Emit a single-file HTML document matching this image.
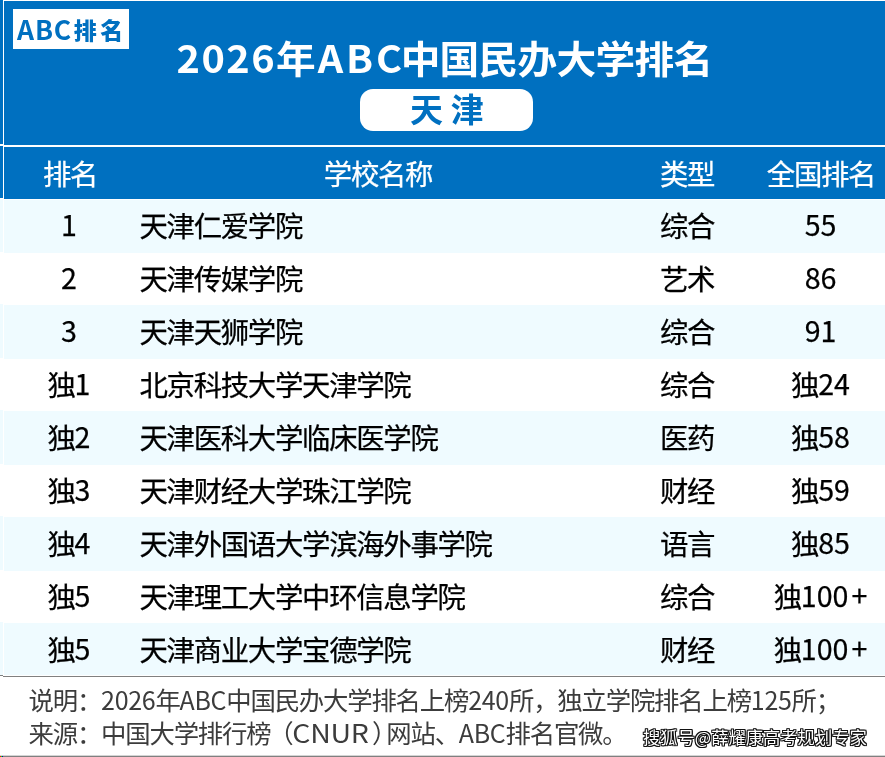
<!DOCTYPE html>
<html lang="zh-CN">
<head>
<meta charset="utf-8">
<title>2026年ABC中国民办大学排名 天津</title>
<style>
html,body{margin:0;padding:0;}
body{width:885px;height:757px;position:relative;overflow:hidden;background:#fff;
 font-family:"Noto Sans CJK SC","Liberation Sans",sans-serif;color:#000;}
.abs{position:absolute;}
i{font-style:normal;}
#top{left:4px;top:1px;width:881px;height:198px;background:#0070c0;}
#topl{left:0;top:0;width:3px;height:198px;background:#0070c0;}
#hline{left:4px;top:145px;width:881px;height:2px;background:#fff;}
#hlinel{left:0;top:144px;width:3px;height:2px;background:#fff;}
.band{left:4px;width:881px;background:#effbff;}
.bandl{left:0;width:3px;background:#effbff;}
#logo{left:13px;top:9px;width:116px;height:40px;background:#fff;color:#0070c0;font-weight:bold;
 font-size:23px;line-height:40px;text-align:left;white-space:nowrap;letter-spacing:3.6px;box-sizing:border-box;padding-left:4px;}
#logo i{font-size:26.5px;letter-spacing:0.9px;}
#logo b{position:relative;top:-1.2px;left:1.6px;}
#title{left:2.4px;top:29px;width:885px;height:56px;line-height:56px;text-align:center;color:#fff;font-weight:bold;
 font-size:38px;letter-spacing:-0.7px;white-space:nowrap;transform:scaleX(1.045);transform-origin:442.5px 0;}
#title i{letter-spacing:1.4px;}
#title .y{letter-spacing:1.8px;}
#title .l{letter-spacing:2.8px;}
#title .c{letter-spacing:-1.4px;}
#pill{left:360px;top:89px;width:173px;height:41.5px;border-radius:13px;background:#fff;color:#0070c0;
 font-weight:bold;font-size:33px;line-height:38px;text-align:center;letter-spacing:7.8px;white-space:nowrap;
 box-sizing:border-box;padding-left:8.5px;}
.row{-webkit-text-stroke:0.25px currentColor;left:0;width:885px;height:53px;line-height:53px;font-size:28.4px;letter-spacing:-1.3px;white-space:nowrap;}
.row i{letter-spacing:0;font-size:28.6px;position:relative;top:-0.8px;}
.row i.p{margin-left:3px;}
.row span{position:absolute;top:0;height:53px;}
.c1{left:19px;width:100px;text-align:center;}
.c2{left:139.5px;}
.c3{left:637px;width:100px;text-align:center;}
.c4{left:740.5px;width:160px;text-align:center;}
#hdr{top:147px;height:52px;line-height:52px;color:#fff;}
#hdr .c2{left:278px;width:200px;text-align:center;}
#hdr .c1{left:20px;}
#hdr .c4{left:741px;}
#gl1{left:3px;top:676px;width:882px;height:1px;background:#808080;}
#gl1l{left:0;top:675px;width:3px;height:1px;background:#808080;}
#gl2{left:3px;top:756px;width:882px;height:1px;background:#808080;}
#gl2a{left:0;top:755px;width:885px;height:1px;background:#d4d4d4;}
.px{top:756px;width:1px;height:1px;}
.note{left:28.5px;font-size:25.4px;letter-spacing:-1.2px;line-height:36px;height:36px;white-space:nowrap;color:#3c3c3c;}
.note b{font-weight:normal;}
.note .pl{margin-left:-2.3px;}
.note .pr{margin-right:-10px;}
.note i.w{display:inline-block;transform:scaleX(1.14);margin:0 8.2px 0 4.8px;}
.note i{font-size:25px;letter-spacing:-0.3px;}
#wm{left:643px;top:726px;font-size:17.3px;line-height:22px;color:#fff;font-weight:normal;white-space:nowrap;
 text-shadow:-1px -1px 0 #111,1px -1px 0 #111,-1px 1px 0 #111,1px 1px 0 #111,0 1px 0 #111,0 -1px 0 #111,1px 0 0 #111,-1px 0 0 #111;}
</style>
</head>
<body>
<div class="abs" id="top"></div>
<div class="abs" id="topl"></div>
<div class="abs" id="hline"></div>
<div class="abs" id="hlinel"></div>
<div class="abs band" style="top:200px;height:53px"></div><div class="abs bandl" style="top:199px;height:53px"></div>
<div class="abs band" style="top:305px;height:54px"></div><div class="abs bandl" style="top:304px;height:54px"></div>
<div class="abs band" style="top:411px;height:54px"></div><div class="abs bandl" style="top:410px;height:54px"></div>
<div class="abs band" style="top:517px;height:54px"></div><div class="abs bandl" style="top:516px;height:54px"></div>
<div class="abs band" style="top:623px;height:52px"></div><div class="abs bandl" style="top:622px;height:53px"></div>
<div class="abs" id="logo"><i>ABC</i><b>排名</b></div>
<div class="abs" id="title"><i>2026</i><i class="y">年</i><i class="l">AB</i><i class="c">C</i>中国民办大学排名</div>
<div class="abs" id="pill">天津</div>
<div class="abs row" id="hdr"><span class="c1">排名</span><span class="c2">学校名称</span><span class="c3">类型</span><span class="c4">全国排名</span></div>
<div class="abs row" style="top:198px"><span class="c1"><i>1</i></span><span class="c2">天津仁爱学院</span><span class="c3">综合</span><span class="c4"><i>55</i></span></div>
<div class="abs row" style="top:251px"><span class="c1"><i>2</i></span><span class="c2">天津传媒学院</span><span class="c3">艺术</span><span class="c4"><i>86</i></span></div>
<div class="abs row" style="top:304px"><span class="c1"><i>3</i></span><span class="c2">天津天狮学院</span><span class="c3">综合</span><span class="c4"><i>91</i></span></div>
<div class="abs row" style="top:357px"><span class="c1">独<i>1</i></span><span class="c2">北京科技大学天津学院</span><span class="c3">综合</span><span class="c4">独<i>24</i></span></div>
<div class="abs row" style="top:410px"><span class="c1">独<i>2</i></span><span class="c2">天津医科大学临床医学院</span><span class="c3">医药</span><span class="c4">独<i>58</i></span></div>
<div class="abs row" style="top:463px"><span class="c1">独<i>3</i></span><span class="c2">天津财经大学珠江学院</span><span class="c3">财经</span><span class="c4">独<i>59</i></span></div>
<div class="abs row" style="top:516px"><span class="c1">独<i>4</i></span><span class="c2">天津外国语大学滨海外事学院</span><span class="c3">语言</span><span class="c4">独<i>85</i></span></div>
<div class="abs row" style="top:569px"><span class="c1">独<i>5</i></span><span class="c2">天津理工大学中环信息学院</span><span class="c3">综合</span><span class="c4">独<i>100</i><i class="p">+</i></span></div>
<div class="abs row" style="top:622px"><span class="c1">独<i>5</i></span><span class="c2">天津商业大学宝德学院</span><span class="c3">财经</span><span class="c4">独<i>100</i><i class="p">+</i></span></div>
<div class="abs" id="gl1"></div><div class="abs" id="gl1l"></div>
<div class="abs note" style="top:681px">说明：<i>2026</i>年<i>ABC</i>中国民办大学排名上榜<i>240</i>所，独立学院排名上榜<i>125</i>所；</div>
<div class="abs note" style="top:714px">来源：中国大学排行榜<b class="pl">（</b><i class="w">CNUR</i><b class="pr">）</b>网站、<i>ABC</i>排名官微。</div>
<div class="abs" id="wm">搜狐号@薛耀康高考规划专家</div>
<div class="abs" id="gl2a"></div><div class="abs" id="gl2"></div><div class="abs px" style="left:0;background:#f00"></div><div class="abs px" style="left:1px;background:#0f0"></div><div class="abs px" style="left:2px;background:#00a"></div>
</body>
</html>
